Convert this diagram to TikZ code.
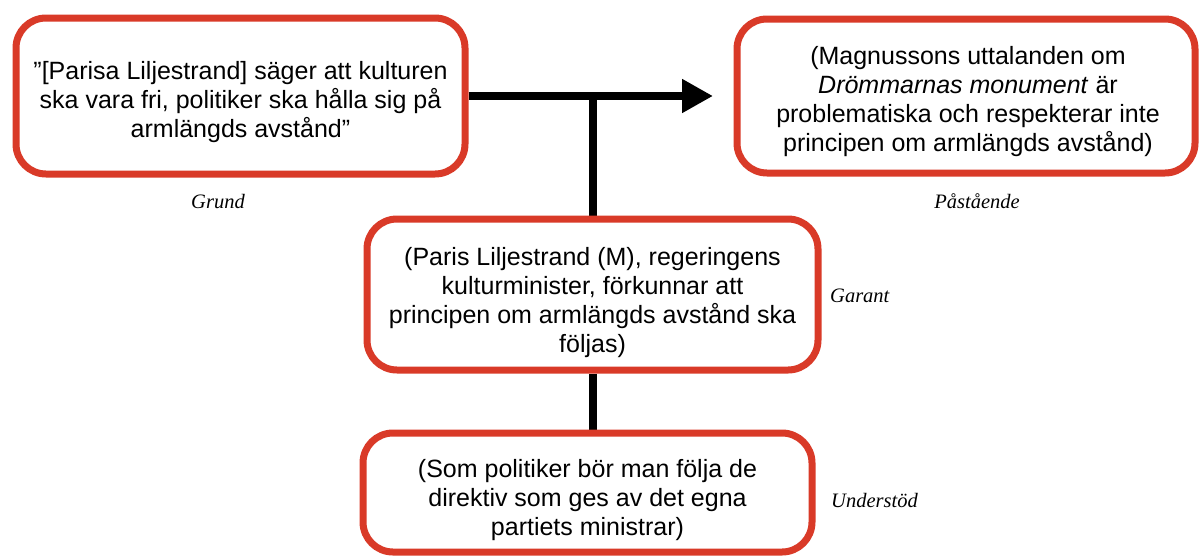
\documentclass[tikz,border=0pt]{standalone}
\usepackage{fontspec}
\setmainfont{Liberation Sans}
\newfontfamily\labelfont{Liberation Serif}
\usetikzlibrary{arrows.meta,backgrounds}
\definecolor{boxred}{RGB}{217,58,40}
\begin{document}
\begin{tikzpicture}[x=1pt,y=-1pt,
  box/.style={draw=boxred, line width=7pt, rounded corners=30pt, fill=white, inner sep=0pt},
  txt/.style={align=center, font=\fontsize{25}{29}\selectfont, inner sep=0pt},
  lbl/.style={font=\labelfont\itshape\fontsize{20.5}{24}\selectfont, inner sep=0pt},
  conn/.style={line width=8pt, black}]
\useasboundingbox (0,0) rectangle (1199,555);

% boxes
\node[box, minimum width=449pt, minimum height=156pt] (grund) at (240.5,96) {};
\node[txt] (grundtxt) at (240.5,102) {”[Parisa Liljestrand] säger att kulturen\\ska vara fri, politiker ska hålla sig på\\armlängds avstånd”};

\node[box, minimum width=458pt, minimum height=154pt] (pasta) at (966,96) {};
\node[txt] (pastatxt) at (968,102) {(Magnussons uttalanden om\\\textit{Drömmarnas monument} är\\problematiska och respekterar inte\\principen om armlängds avstånd)};

\node[box, minimum width=451pt, minimum height=151pt] (garant) at (592.5,294.5) {};
\node[txt] (garanttxt) at (592.5,303) {(Paris Liljestrand (M), regeringens\\kulturminister, förkunnar att\\principen om armlängds avstånd ska\\följas)};

\node[box, minimum width=449pt, minimum height=119pt] (understod) at (587.5,492.5) {};
\node[txt] (understodtxt) at (587.5,500) {(Som politiker bör man följa de\\direktiv som ges av det egna\\partiets ministrar)};

% labels
\node[lbl, anchor=base] (lgrund) at (218,208) {Grund};
\node[lbl, anchor=base] (lpasta) at (977,208) {Påstående};
\node[lbl, anchor=base west] (lgarant) at (830,302) {Garant};
\node[lbl, anchor=base west] (lunder) at (831,507) {Understöd};

% connectors
\coordinate (tip) at (713,96);
\begin{pgfonlayer}{background}
\draw[conn, -{Triangle[length=31pt,width=32pt]}] (grund.east) -- (tip);
\draw[conn] (garant.north) -- (garant.north |- grund.east);
\draw[conn] (garant.south) -- (garant.south |- understod.north);
\end{pgfonlayer}
\end{tikzpicture}
\end{document}
